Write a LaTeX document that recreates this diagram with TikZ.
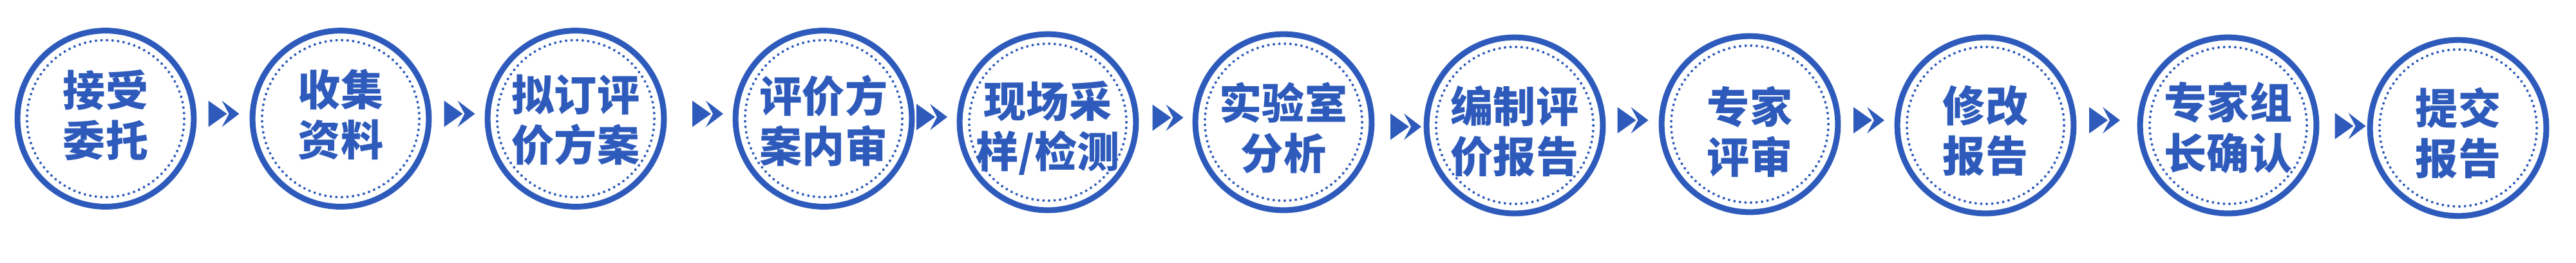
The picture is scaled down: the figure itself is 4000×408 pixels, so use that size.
\documentclass[tikz,border=0pt]{standalone}
\usepackage{fontspec}
\newfontfamily\cjk{Noto Sans CJK SC}
\definecolor{blueC}{RGB}{46,91,187}
\tikzset{
  ring/.style={circle, draw=blueC, line width=0.09cm, minimum size=2.736cm, inner sep=0pt},
  dotring/.style={draw=blueC, line width=0.04cm, line cap=round, dash pattern=on 0pt off 0.0861cm},
  lbl/.style={text=blueC, align=center, inner sep=0pt, font=\cjk\bfseries\fontsize{18.8pt}{22.2pt}\selectfont},
  dblarrow/.pic={
    \fill[blueC] (-24,-20.5) -- (5,0) -- (-24,20.5) -- cycle;
    \fill[blueC] (-3,-20.5) -- (24,0) -- (-3,20.5) -- (8,0) -- cycle;
  }
}
\begin{document}
\begin{tikzpicture}[x=0.01cm,y=-0.01cm]
\useasboundingbox[fill=white] (0,0) rectangle (4000,408);
\foreach \i/\x/\y/\ty/\txt in {
  1/164/184.5/179.5/{接受\\委托},
  2/529/184.5/178.5/{收集\\资料},
  3/894/184.5/186.5/{拟订评\\价方案},
  4/1279/184.5/187.5/{评价方\\案内审},
  5/1627/190/199.5/{现场采\\样/检测},
  6/1993/190/199/{实验室\\分析},
  7/2352/195/204.5/{编制评\\价报告},
  8/2717/193/204.5/{专家\\评审},
  9/3083/195/203.5/{修改\\报告},
  10/3460/195/198.5/{专家组\\长确认},
  11/3817/199/207.5/{提交\\报告}}{
  \node[ring] (c\i) at (\x,\y) {};
  \draw[dotring] (c\i.center) circle[radius=1.22cm];
  \node[lbl] (t\i) at (\x,\ty) {\txt};
}
\foreach \j/\x/\y in {1/347.5/177, 2/713.5/177, 3/1099/177, 4/1447/182, 5/1813.5/183,
  6/2183/197, 7/2535.5/187, 8/2902/187, 9/3268/187, 10/3649.5/196}{
  \pic (a\j) at (\x,\y) {dblarrow};
}
\end{tikzpicture}
\end{document}
